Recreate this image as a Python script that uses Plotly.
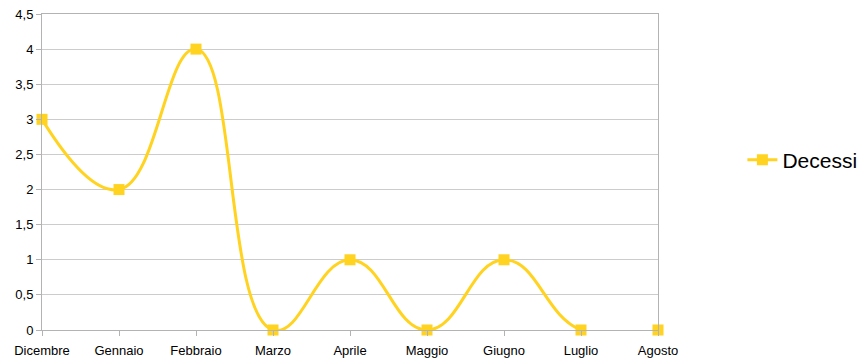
import plotly.graph_objects as go

months = ["Dicembre", "Gennaio", "Febbraio", "Marzo", "Aprile", "Maggio", "Giugno", "Luglio", "Agosto"]
decessi = [3, 2, 4, 0, 1, 0, 1, 0, 0]
y_ticks = [0, 0.5, 1, 1.5, 2, 2.5, 3, 3.5, 4, 4.5]

fig = go.Figure()
fig.add_trace(go.Scatter(
    x=months, y=decessi, name="Decessi",
    mode="lines+markers",
    line=dict(color="#ffd320", width=3, shape="spline", smoothing=1.3),
    marker=dict(symbol="square", size=11, color="#ffd320"),
    cliponaxis=False,
))

fig.update_layout(
    width=868, height=360,
    margin=dict(l=42, r=210, t=14, b=30, autoexpand=False),
    paper_bgcolor="white", plot_bgcolor="white",
    separators=",.",
    font=dict(family="Liberation Sans, Arial, sans-serif", size=13, color="#000"),
    showlegend=True,
    legend=dict(x=1.137, xanchor="left", y=0.538, yanchor="middle",
                font=dict(size=21), bgcolor="rgba(0,0,0,0)"),
)
fig.update_xaxes(
    type="category", range=[0, 8], automargin=False,
    showgrid=False, showline=True, linecolor="#b3b3b3", linewidth=1, mirror=True,
    ticks="outside", ticklen=5, tickcolor="#b3b3b3", ticklabelstandoff=3,
    tickfont=dict(size=13), zeroline=False,
)
fig.update_yaxes(
    range=[0, 4.5], tickvals=y_ticks, automargin=False,
    showgrid=True, gridcolor="#cccccc", gridwidth=1,
    showline=True, linecolor="#b3b3b3", linewidth=1, mirror=True,
    ticks="outside", ticklen=5, tickcolor="#b3b3b3",
    tickfont=dict(size=13), zeroline=False,
)

fig.write_html("out.html")
